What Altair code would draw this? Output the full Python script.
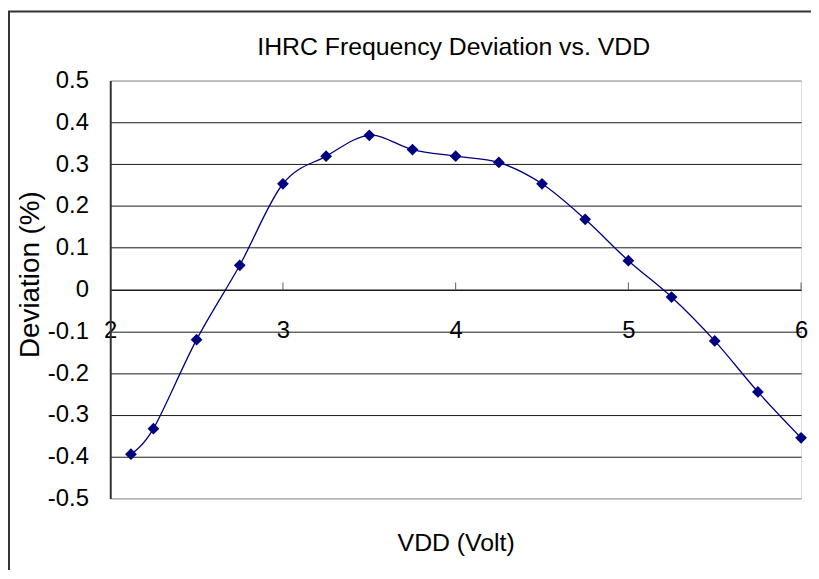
import altair as alt
import pandas as pd

# ---- data ----
vdd = [2.12, 2.25, 2.5, 2.75, 3.0, 3.25, 3.5, 3.75, 4.0, 4.25, 4.5, 4.75, 5.0, 5.25, 5.5, 5.75, 6.0]
dev = [-0.394, -0.333, -0.120, 0.058, 0.253, 0.319, 0.369, 0.335, 0.319, 0.304,
       0.253, 0.168, 0.069, -0.018, -0.123, -0.245, -0.355]
x_ticks = [2, 3, 4, 5, 6]
y_ticks = [-0.5, -0.4, -0.3, -0.2, -0.1, 0, 0.1, 0.2, 0.3, 0.4, 0.5]

title_text = "IHRC Frequency Deviation vs. VDD"
x_title = "VDD (Volt)"
y_title = "Deviation (%)"

df = pd.DataFrame({"VDD": vdd, "Deviation": dev})
tick_df = pd.DataFrame({"VDD": x_ticks[1:]})
frame_df = pd.DataFrame({"f": [0]})

FONT = "Liberation Sans"
W, H = 696, 421
NAVY = "#000080"

y_label_expr = ("datum.value == 0 ? '0' : (datum.value < 0 ? '-' + format(-datum.value, '.1f') "
                ": format(datum.value, '.1f'))")

x_scale = alt.Scale(domain=[2, 6], nice=False, zero=False)
y_scale = alt.Scale(domain=[-0.5, 0.5], nice=False, zero=False)

x_axis = alt.Axis(
    values=x_ticks, orient="bottom", offset=-H / 2, format="d",
    grid=False, ticks=False, tickSize=0,
    domain=True, domainColor="#1a1a1a", domainWidth=1,
    labelPadding=48, labelBaseline="alphabetic", labelFlush=False, labelOverlap=False,
    labelFont=FONT, labelFontSize=24, labelColor="black",
    title=x_title, titleFont=FONT, titleFontSize=25, titleFontWeight="normal",
    titleColor="black", titleBaseline="alphabetic", titleY=263, titleX=W / 2,
)

y_axis = alt.Axis(
    values=y_ticks, labelExpr=y_label_expr,
    grid=True, gridWidth=1,
    gridColor={"condition": {"test": "abs(datum.value) > 0.45", "value": "#8c8c8c"}, "value": "#1a1a1a"},
    ticks=False, tickSize=0,
    domain=True, domainColor="#333333", domainWidth=2,
    labelPadding=22, labelFlush=False, labelOverlap=False,
    labelFont=FONT, labelFontSize=24, labelColor="black",
    title=y_title, titleFont=FONT, titleFontSize=28, titleFontWeight="normal",
    titleColor="black", titleAngle=270, titleBaseline="alphabetic", titleAlign="center",
    titleX=-72, titleY=195,
)

frame = alt.Chart(frame_df).mark_rect(fill="transparent", stroke="#333333", strokeWidth=2).encode(
    x=alt.value(-102), x2=alt.value(800), y=alt.value(-69.5), y2=alt.value(700)
)

title = alt.Chart(frame_df).mark_text(
    font=FONT, fontSize=25, color="black", align="center", baseline="alphabetic"
).encode(x=alt.value(W / 2 - 2), y=alt.value(-26), text=alt.datum(title_text))

line = alt.Chart(df).mark_line(color=NAVY, strokeWidth=1.3, interpolate="cardinal").encode(
    x=alt.X("VDD:Q", scale=x_scale, axis=x_axis),
    y=alt.Y("Deviation:Q", scale=y_scale, axis=y_axis),
)

points = alt.Chart(df).mark_point(shape="diamond", filled=True, size=140, color=NAVY, opacity=1).encode(
    x=alt.X("VDD:Q"),
    y=alt.Y("Deviation:Q"),
)

xticks = alt.Chart(tick_df).mark_tick(orient="vertical", size=7, thickness=1, color="#1a1a1a", yOffset=-3.5).encode(
    x=alt.X("VDD:Q"),
    y=alt.datum(0),
)

chart = alt.layer(frame, title, line, points, xticks).properties(
    width=W, height=H,
    padding={"left": 103, "top": 71, "right": 10, "bottom": 70},
    autosize=alt.AutoSizeParams(type="none"),
).configure_view(stroke="#999999", strokeWidth=1.5).configure(background="white")

chart.save("out.html", embed_options={"renderer": "svg", "actions": False})
